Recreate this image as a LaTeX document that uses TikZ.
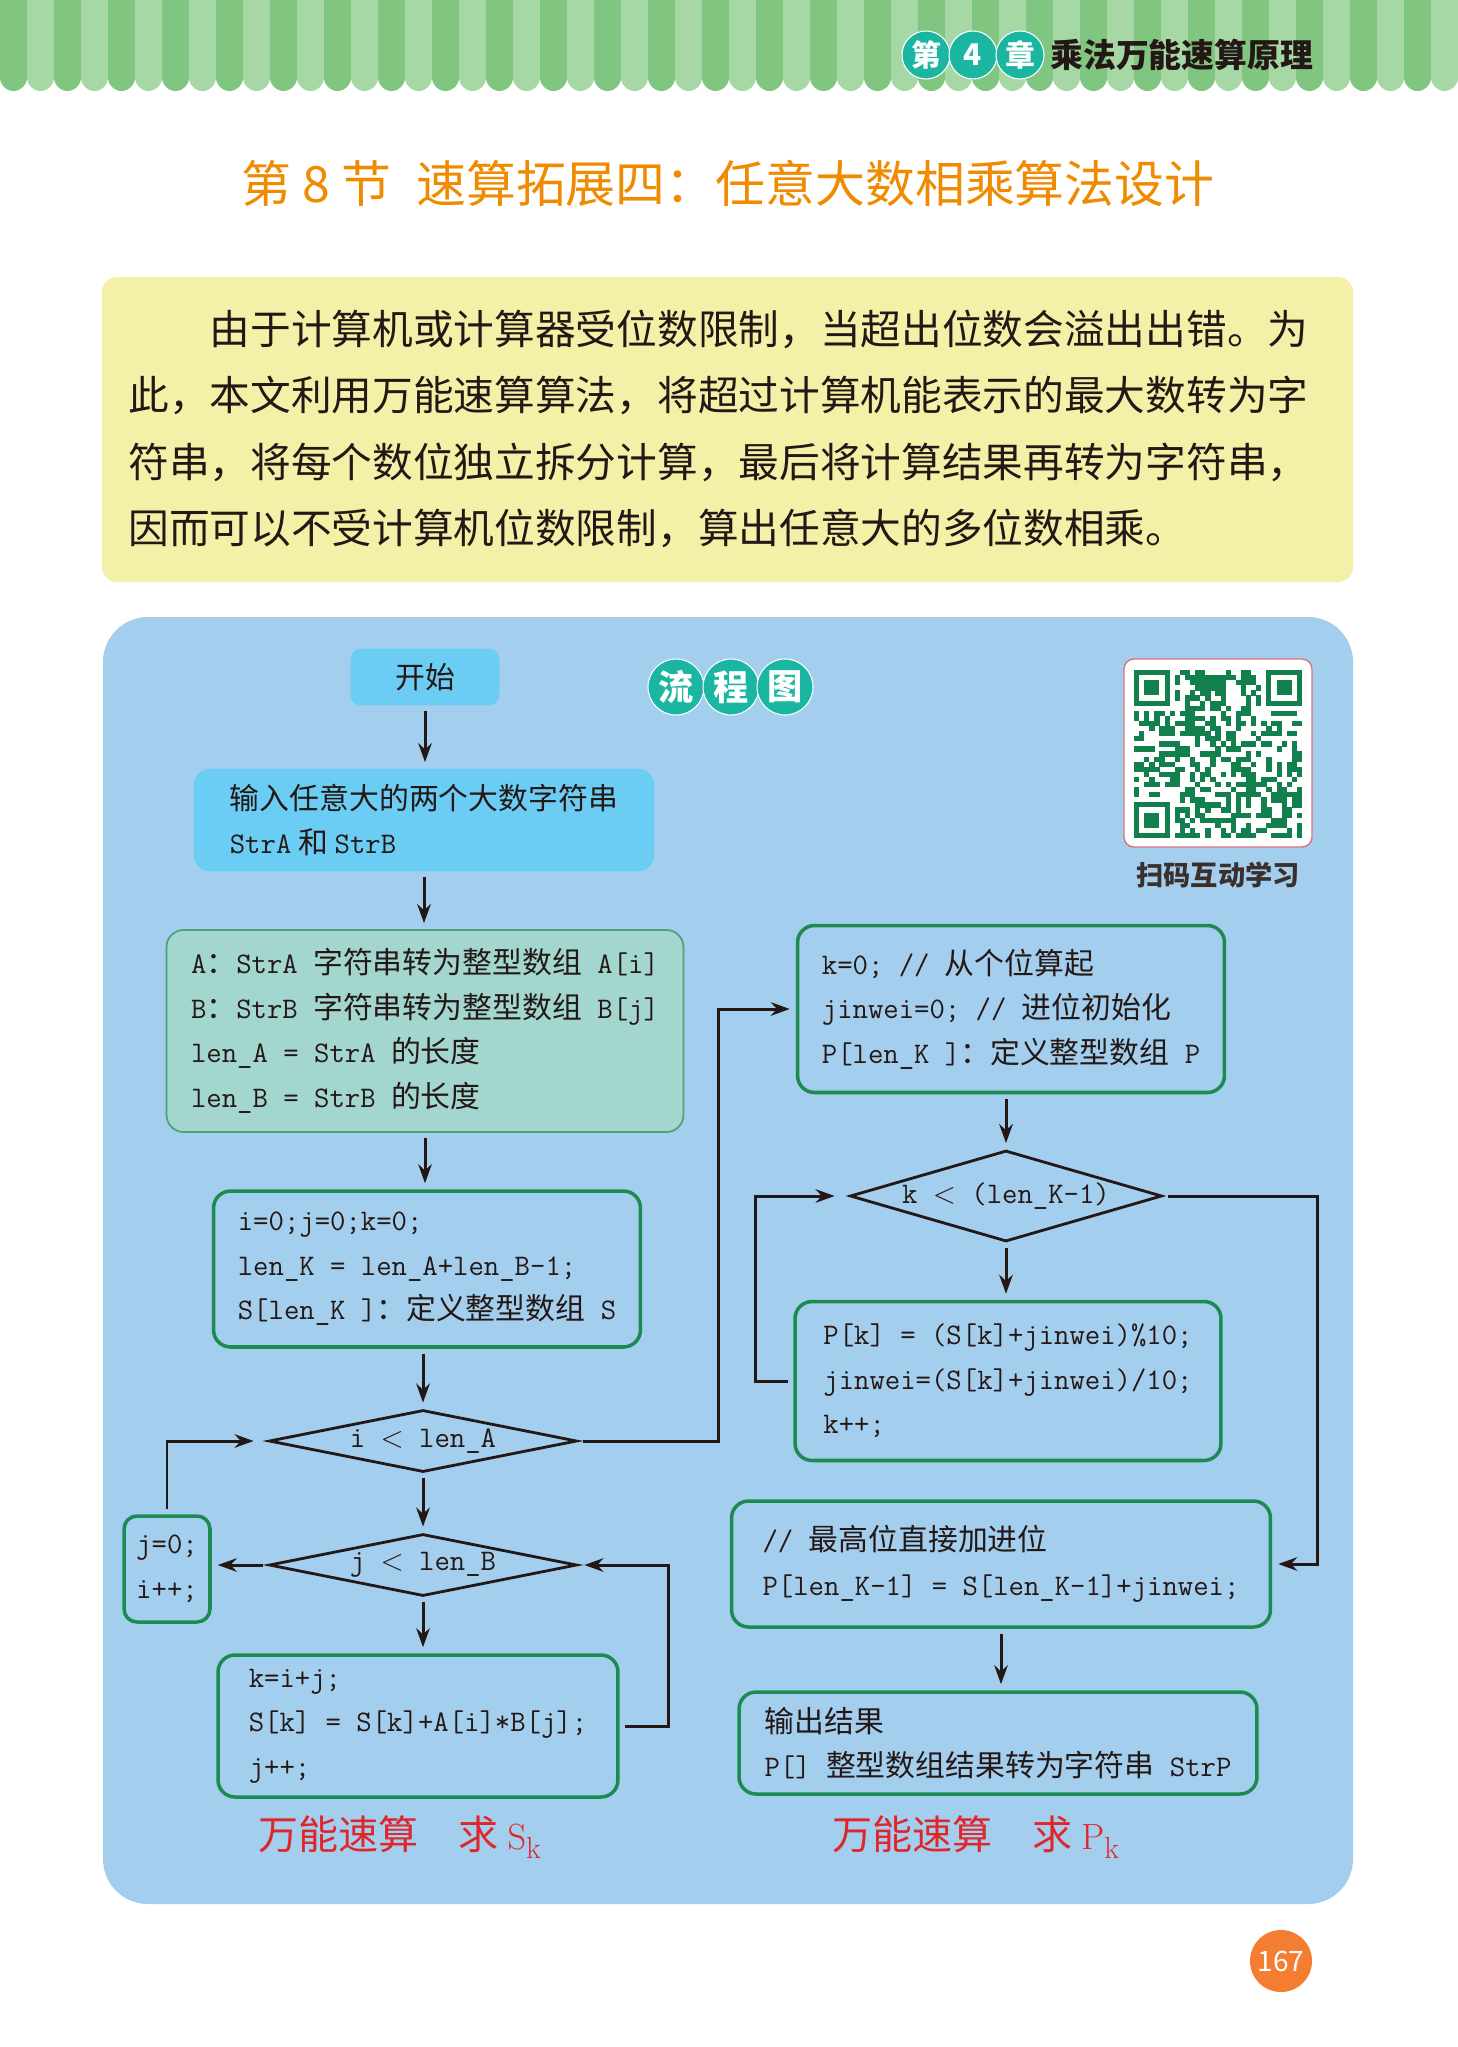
\documentclass[tikz,border=0pt]{standalone}
\usepackage[no-math]{fontspec}
\setmainfont{Noto Sans CJK SC}
\usepackage{xcolor}
\usetikzlibrary{positioning,arrows.meta,shapes.geometric}

\definecolor{ink}{HTML}{231815}
\definecolor{panelblue}{HTML}{A4CEEE}
\definecolor{cyanbox}{HTML}{6BCDF4}
\definecolor{tealbox}{HTML}{A3D6CF}
\definecolor{tealline}{HTML}{4BA27A}
\definecolor{boxgreen}{HTML}{1D8A52}
\definecolor{badge}{HTML}{1BB6A2}
\definecolor{titleorange}{HTML}{F08A00}
\definecolor{notepad}{HTML}{F5F0A8}
\definecolor{labelred}{HTML}{E0262B}
\definecolor{qrgreen}{HTML}{12804D}
\definecolor{qrframe}{HTML}{D9737B}
\definecolor{stripedark}{HTML}{80C680}
\definecolor{stripelight}{HTML}{A6D8A5}
\definecolor{pagedot}{HTML}{F47D31}

\newcommand{\zh}[1]{{\rmfamily #1}}
\newcommand{\boxfont}{\fontsize{17}{25.4}\selectfont}

\begin{document}
\begin{tikzpicture}[x=0.02cm, y=-0.02cm,
    blk/.style={rounded corners=0.34cm, align=left, font=\boxfont\ttfamily, text=ink, inner sep=0pt},
    term/.style={blk, fill=cyanbox, font=\boxfont},
    proc/.style={blk, draw=boxgreen, line width=2pt},
    data/.style={blk, draw=tealline, line width=1pt, fill=tealbox},
    cond/.style={diamond, draw=ink, line width=1.6pt, inner sep=0pt, font=\boxfont\ttfamily, text=ink},
    arr/.style={-{Stealth[length=3.8mm, width=2.7mm]}, draw=ink, line width=1.7pt,
                shorten <=0.1cm, shorten >=0.12cm},
    badge/.style={circle, fill=badge, draw=white, line width=0.6pt, text=white, inner sep=0pt},
    lbl/.style={text=labelred, font=\fontsize{22.8}{24}\selectfont}
  ]
  \useasboundingbox (0,0) rectangle (1457,2047);
  \fill[white] (0,0) rectangle (1457,2047);

  % page header
  \foreach \k in {0,...,26}{
    \fill[stripedark, rounded corners=0.27cm] ({\k*54},-30) rectangle ++(27,121);
    \fill[stripelight, rounded corners=0.27cm] ({\k*54+27},-30) rectangle ++(27,121);
  }
  \node[badge, minimum size=0.96cm, font=\fontsize{17}{17}\selectfont\bfseries] (chA) at (926,55) {第};
  \node[badge, minimum size=0.96cm, font=\fontsize{17}{17}\selectfont\bfseries] (chB) at (973,55) {4};
  \node[badge, minimum size=0.96cm, font=\fontsize{17}{17}\selectfont\bfseries] (chC) at (1020,55) {章};
  \node[anchor=west, text=ink, inner sep=0pt, font=\fontsize{18.7}{20}\selectfont\bfseries] (chname) at (1050,55) {乘法万能速算原理};

  \node[text=titleorange, font=\fontsize{28.4}{30}\selectfont] (title) at (728,183)
    {第 8 节\hspace{0.5em}速算拓展四：任意大数相乘算法设计};

  % intro note
  \fill[notepad, rounded corners=0.3cm] (102,277) rectangle (1353,582);
  \node[anchor=west, align=left, inner sep=0pt, text=ink, font=\fontsize{23.16}{37.9}\selectfont] (intro) at (128,429)
    {\hspace*{2em}由于计算机或计算器受位数限制，当超出位数会溢出出错。为\\
     此，本文利用万能速算算法，将超过计算机能表示的最大数转为字\\
     符串，将每个数位独立拆分计算，最后将计算结果再转为字符串，\\
     因而可以不受计算机位数限制，算出任意大的多位数相乘。};

  % flow chart panel
  \fill[panelblue, rounded corners=0.9cm] (103,617) rectangle (1353,1904);
  \node[badge, minimum size=1.12cm, font=\fontsize{20}{20}\selectfont\bfseries] (flA) at (676,687) {流};
  \node[badge, minimum size=1.12cm, font=\fontsize{20}{20}\selectfont\bfseries] (flB) at (731,687) {程};
  \node[badge, minimum size=1.12cm, font=\fontsize{20}{20}\selectfont\bfseries] (flC) at (785,687) {图};

  % QR code
  \filldraw[fill=white, draw=qrframe, line width=0.8pt, rounded corners=0.2cm] (1124,659) rectangle (1312,847);
  \pgfmathsetseed{2024}
  \foreach \i in {0,...,32}{
    \foreach \j in {0,...,32}{
      \pgfmathtruncatemacro\qcorner{((\i<8)&&(\j<8))||((\i>24)&&(\j<8))||((\i<8)&&(\j>24))}
      \pgfmathtruncatemacro\qon{(rnd<0.5)&&(\qcorner==0)}
      \ifnum\qon=1
        \fill[qrgreen] ({1134+\i*5.09},{670+\j*5.09}) rectangle ++(5.3,5.3);
      \fi
    }
  }
  \foreach \ox/\oy in {0/0, 26/0, 0/26}{
    \fill[qrgreen] ({1134+\ox*5.09},{670+\oy*5.09}) rectangle ++(35.6,35.6);
    \fill[white] ({1134+(\ox+1)*5.09},{670+(\oy+1)*5.09}) rectangle ++(25.45,25.45);
    \fill[qrgreen] ({1134+(\ox+2)*5.09},{670+(\oy+2)*5.09}) rectangle ++(15.27,15.27);
  }
  \node[text=ink!90, font=\fontsize{15.5}{16}\selectfont\bfseries] (scan) at (1218,875) {扫码互动学习};

  % left column: S_k
  \node[term, minimum width=2.98cm, minimum height=1.14cm, rounded corners=0.22cm] (start) at (425,677) {开始};
  \node[term, minimum width=9.22cm, minimum height=2.06cm] (input) at (424,820)
    {输入任意大的两个大数字符串\\\texttt{StrA} 和 \texttt{StrB}};
  \node[data, minimum width=10.34cm, minimum height=4.04cm] (conv) at (425,1031)
    {A\zh{：}StrA \zh{字符串转为整型数组} A[i]\\B\zh{：}StrB \zh{字符串转为整型数组} B[j]\\len\_A = StrA \zh{的长度}\\len\_B = StrB \zh{的长度}};
  \node[proc, minimum width=8.54cm, minimum height=3.12cm] (init) at (427,1269)
    {i=0;j=0;k=0;\\len\_K = len\_A+len\_B-1;\\S[len\_K ]\zh{：定义整型数组} S};
  \node[cond, aspect=5, minimum width=6.16cm, minimum height=1.24cm] (loopI) at (423,1441) {i $<$ len\_A};
  \node[cond, aspect=5, minimum width=6.16cm, minimum height=1.24cm] (loopJ) at (423,1565) {j $<$ len\_B};
  \node[proc, minimum width=8cm, minimum height=2.84cm] (mult) at (418,1726)
    {k=i+j;\\S[k] = S[k]+A[i]*B[j];\\j++;};
  \node[proc, minimum width=1.72cm, minimum height=2.12cm, rounded corners=0.26cm] (nextI) at (167,1569) {j=0;\\i++;};

  % right column: P_k
  \node[proc, minimum width=8.54cm, minimum height=3.34cm] (kinit) at (1011,1009)
    {k=0; // \zh{从个位算起}\\jinwei=0; // \zh{进位初始化}\\P[len\_K ]\zh{：定义整型数组} P};
  \node[cond, aspect=3.4, minimum width=6.24cm, minimum height=1.82cm] (loopK) at (1006,1196) {k $<$ (len\_K-1)};
  \node[proc, minimum width=8.52cm, minimum height=3.18cm] (carry) at (1008,1381)
    {P[k] = (S[k]+jinwei)\%10;\\jinwei=(S[k]+jinwei)/10;\\k++;};
  \node[proc, minimum width=10.78cm, minimum height=2.52cm] (high) at (1001,1564)
    {// \zh{最高位直接加进位}\\P[len\_K-1] = S[len\_K-1]+jinwei;};
  \node[proc, minimum width=10.36cm, minimum height=2.04cm] (result) at (998,1743)
    {\zh{输出结果}\\P[] \zh{整型数组结果转为字符串} StrP};

  \draw[arr] (start.south) -- (start.south |- input.north);
  \draw[arr] (input.south) -- (input.south |- conv.north);
  \draw[arr] (conv.south) -- (conv.south |- init.north);
  \draw[arr] (init.south -| loopI) -- (loopI.north);
  \draw[arr] (loopI.south) -- (loopJ.north);
  \draw[arr] (loopJ.south) -- (loopJ.south |- mult.north);
  \draw[arr] (mult.east) -- ++(49,0) |- (loopJ.east);
  \draw[arr] (loopJ.west) -- (loopJ.west -| nextI.east);
  \draw[arr, shorten >=0.28cm] (nextI.north) |- (loopI.west);
  \draw[arr] (loopI.east) -- ++(140,0) |- (kinit.west);
  \draw[arr] (kinit.south -| loopK) -- (loopK.north);
  \draw[arr] (loopK.south) -- (loopK.south |- carry.north);
  \draw[arr, shorten >=0.28cm] (carry.west) -- ++(-38,0) |- (loopK.west);
  \draw[arr] (loopK.east) -- ++(154,0) |- (high.east);
  \draw[arr] (high.south) -- (high.south |- result.north);

  \node[lbl] (sumS) at (400,1837) {万能速算\hspace{1em}求 $\mathrm{S}_{\mathrm{k}}$};
  \node[lbl] (sumP) at (976,1837) {万能速算\hspace{1em}求 $\mathrm{P}_{\mathrm{k}}$};

  \node[circle, fill=pagedot, minimum size=1.24cm, inner sep=0pt, text=white, font=\fontsize{16}{16}\selectfont] (pageno) at (1281,1961) {167};
\end{tikzpicture}
\end{document}
